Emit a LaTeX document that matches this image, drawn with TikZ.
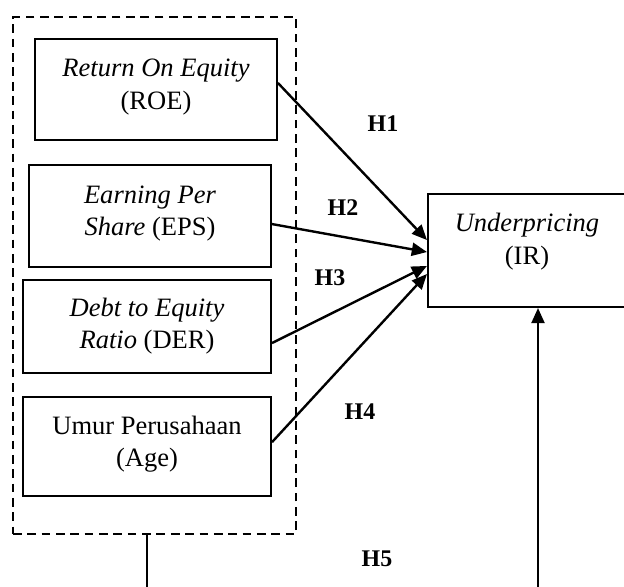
\documentclass[tikz,border=0pt]{standalone}
\usepackage{fontspec}
\setmainfont{Liberation Serif}
\usetikzlibrary{arrows.meta,positioning}

\begin{document}
\begin{tikzpicture}[
  x=0.46pt, y=-0.46pt,
  every node/.style={font=\fontsize{12.2}{14.8}\selectfont},
  varbox/.style={draw, line width=0.9pt, align=center, inner sep=0pt},
  groupbox/.style={draw, line width=1.1pt, dash pattern=on 4pt off 2.6pt, inner sep=0pt, minimum width=130.2pt, minimum height=237.8pt},
  hyp/.style={font=\fontsize{11}{13}\selectfont\bfseries},
  link/.style={-{Triangle[length=7pt,width=6pt]}, line width=1.1pt},
  >=Latex
]
\useasboundingbox (0,0) rectangle (624,586);

% independent variables
\node[groupbox] (grp) at (154.5,275.5) {};
\node[varbox, minimum width=111.3pt, minimum height=46.5pt] (roe) at (156,89.5) {\textit{Return On Equity}\\(ROE)\\[-10pt]};
\node[varbox, minimum width=111.3pt, minimum height=46.9pt] (eps) at (150,216) {\textit{Earning Per}\\\textit{Share} (EPS)\\[-10pt]};
\node[varbox, minimum width=114.1pt, minimum height=42.8pt] (der) at (147,326.5) {\textit{Debt to Equity}\\\textit{Ratio} (DER)};
\node[varbox, minimum width=114.1pt, minimum height=45.5pt] (age) at (147,446.5) {Umur Perusahaan\\(Age)\\[-10pt]};

% dependent variable
\node[varbox, minimum width=91.1pt, minimum height=52pt] (ir) at (527,250.5) {\textit{Underpricing}\\(IR)\\[-4pt]};

\coordinate (grpfoot) at (147,590);
\coordinate (h5foot) at (538,590);

\draw[link] ([yshift=3pt]roe.east) -- ([yshift=4.8pt]ir.west);
\draw[link] ([yshift=-3.7pt]eps.east) -- ([yshift=-0.7pt]ir.west);
\draw[link] ([yshift=-7.6pt]der.east) -- ([yshift=-7.1pt]ir.west);
\draw[link] ([yshift=2pt]age.east) -- ([yshift=-10.8pt]ir.west);
\draw[line width=0.9pt] (grp.south -| grpfoot) -- (grpfoot);
\draw[link] (h5foot) -- (h5foot |- ir.south);

\node[hyp] (h1) at (383,124) {H1};
\node[hyp] (h2) at (343,208) {H2};
\node[hyp] (h3) at (330,278) {H3};
\node[hyp] (h4) at (360,412) {H4};
\node[hyp] (h5) at (377,559) {H5};
\end{tikzpicture}
\end{document}
